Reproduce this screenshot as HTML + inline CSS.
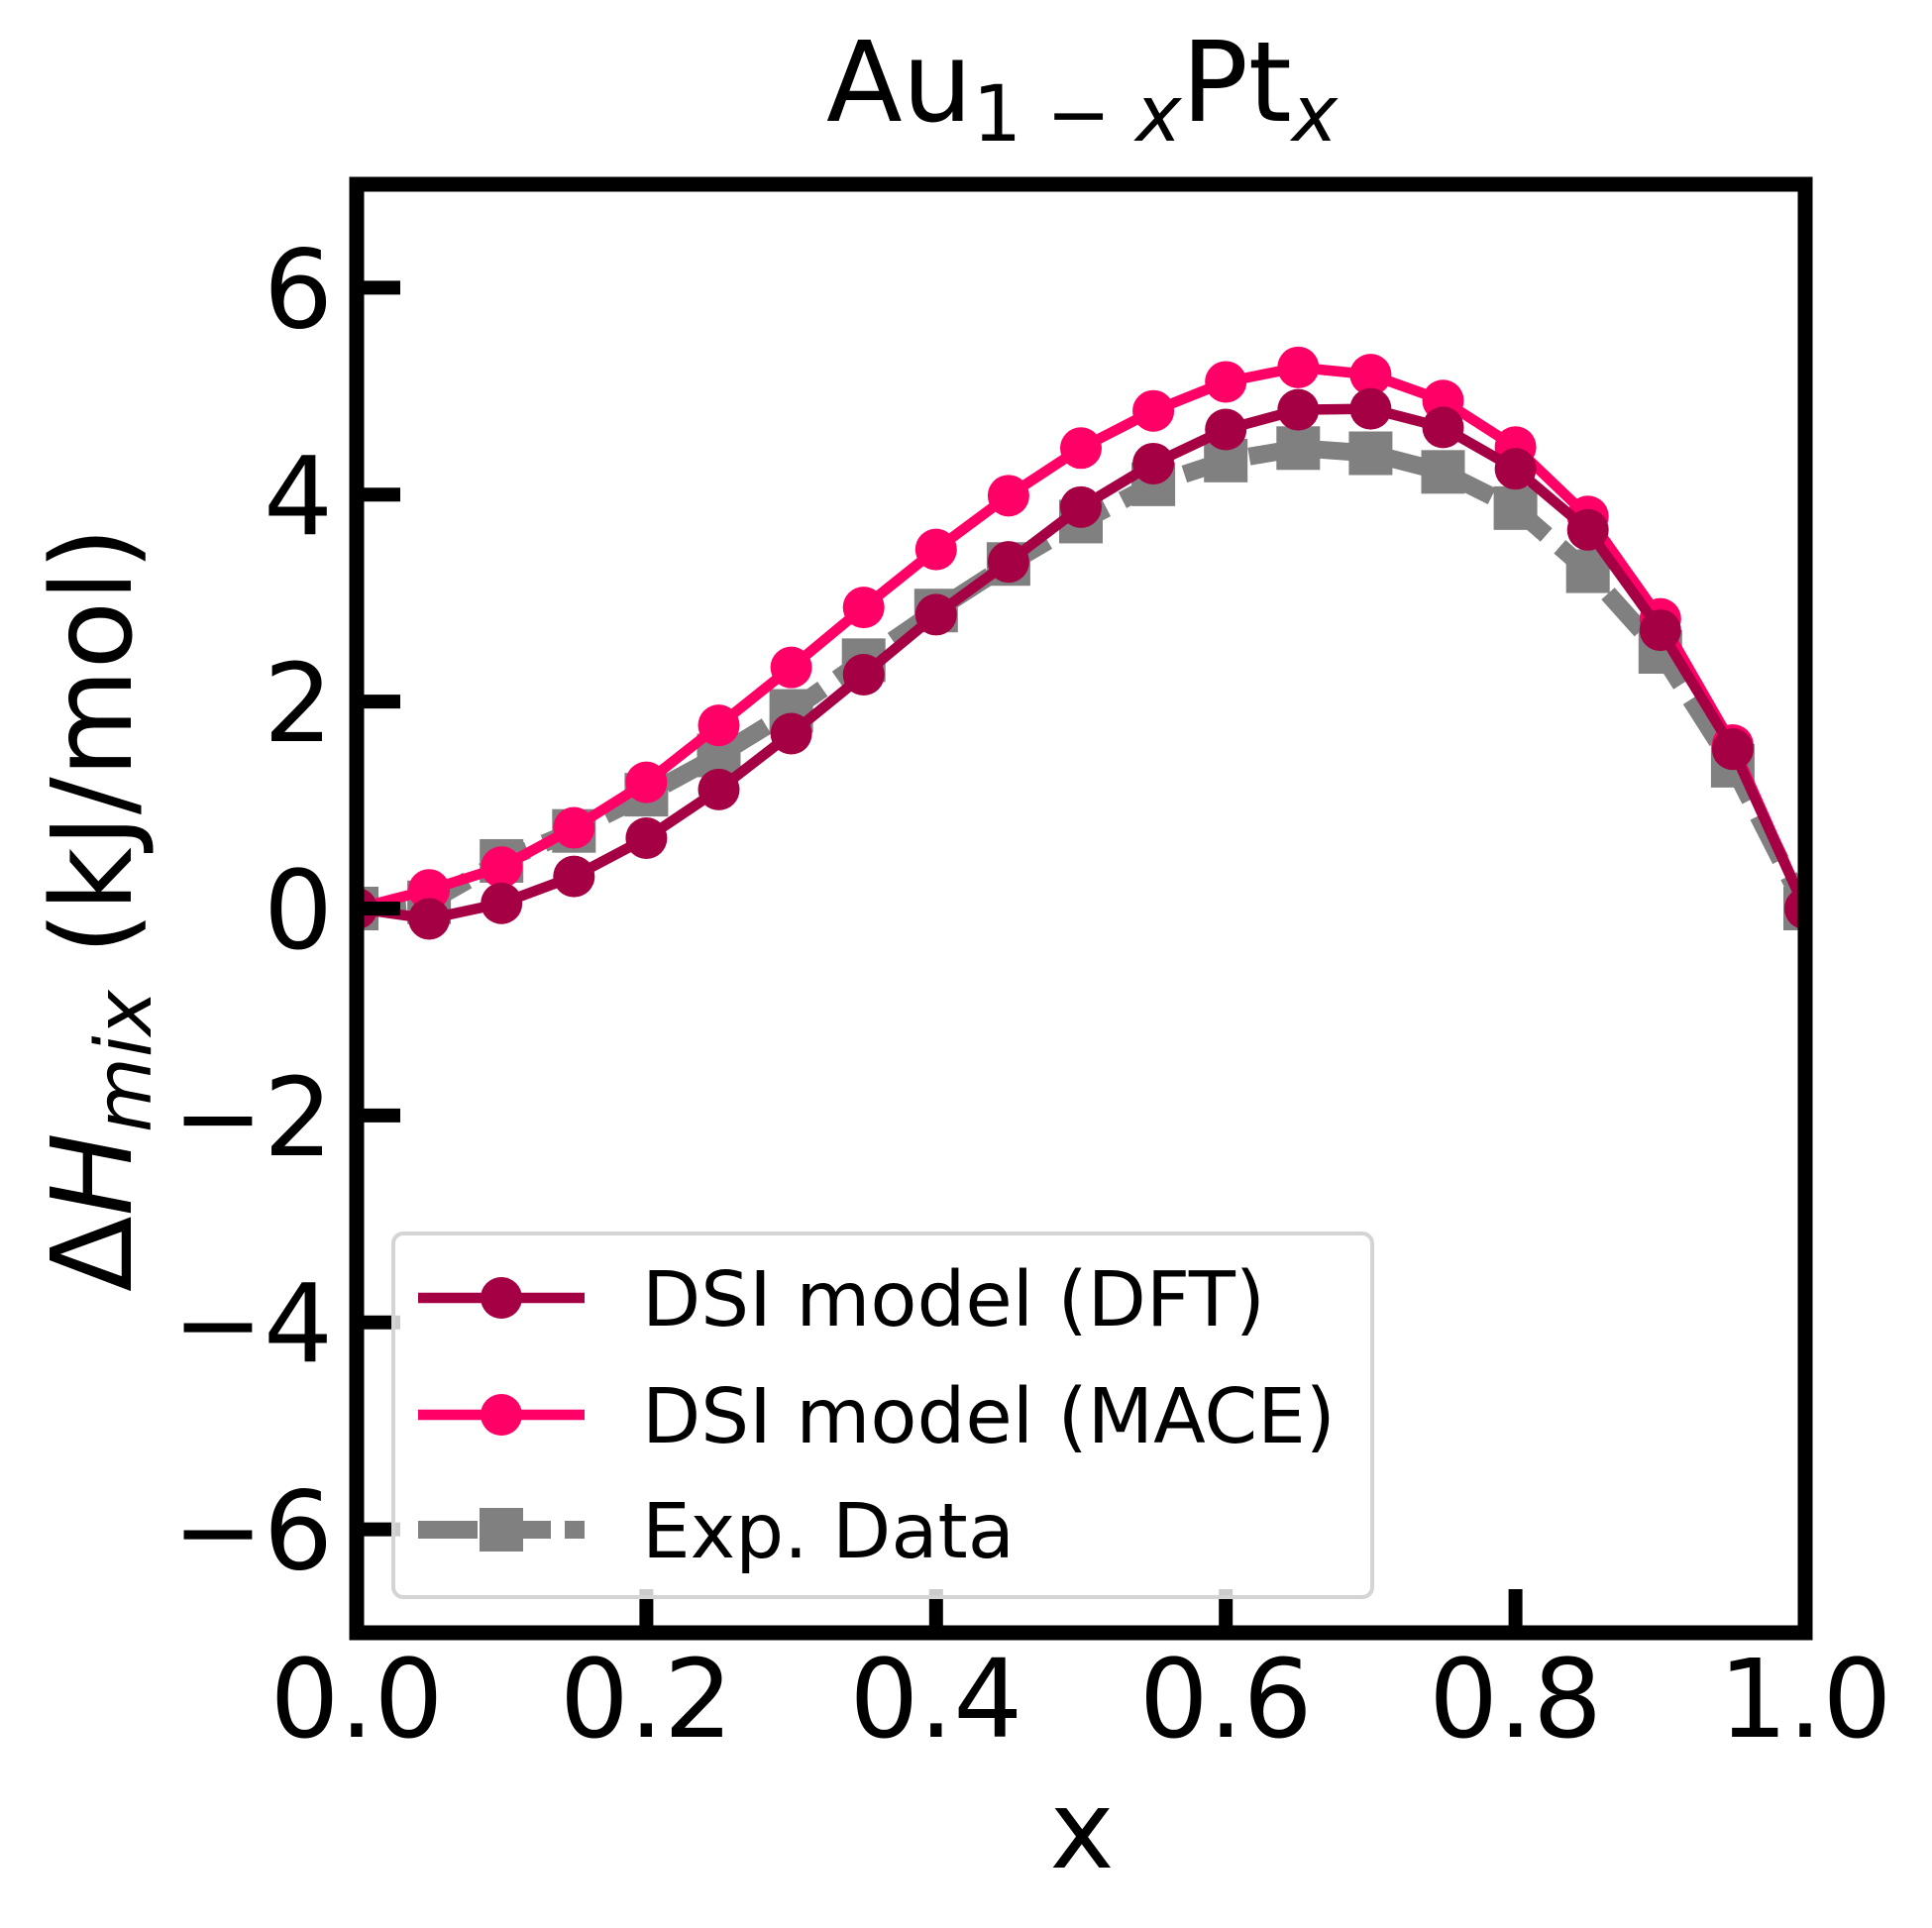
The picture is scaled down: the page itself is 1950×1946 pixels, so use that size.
<!DOCTYPE html>
<html><head><meta charset="utf-8"><style>html,body{margin:0;padding:0;background:#fff}</style></head>
<body>
<svg id="chart" width="1950" height="1941" xmlns="http://www.w3.org/2000/svg" font-family="'DejaVu Sans','Liberation Sans',sans-serif">
<rect width="1950" height="1941" fill="#fff"/>
<g id="plot"></g>
<text x="1092" y="122" font-size="112" text-anchor="middle">Au<tspan font-size="78" dy="20">1 − <tspan font-style="italic">x</tspan></tspan><tspan dy="-20">Pt</tspan><tspan font-size="78" dy="20" font-style="italic">x</tspan></text>
<text x="1092" y="1885" font-size="110" text-anchor="middle">x</text>
<text transform="translate(132,918) rotate(-90)" font-size="112" text-anchor="middle">Δ<tspan font-style="italic">H</tspan><tspan font-size="78" dy="20" font-style="italic">mix</tspan><tspan dy="-20"> (kJ/mol)</tspan></text>
</svg>
<script>
const xs=[0,0.05,0.1,0.15,0.2,0.25,0.3,0.35,0.4,0.45,0.5,0.55,0.6,0.65,0.7,0.75,0.8,0.85,0.9,0.95,1.0];
const dft=[0,-0.1,0.05,0.31,0.68,1.15,1.69,2.26,2.84,3.35,3.88,4.3,4.63,4.82,4.83,4.65,4.25,3.66,2.69,1.54,0];
const mace=[0,0.18,0.4,0.78,1.22,1.77,2.33,2.91,3.47,3.99,4.45,4.81,5.09,5.23,5.16,4.91,4.46,3.79,2.8,1.58,0];
const expd=[0,0.06,0.46,0.75,1.1,1.48,1.91,2.4,2.88,3.33,3.74,4.1,4.33,4.45,4.4,4.22,3.87,3.26,2.48,1.38,0];
const xTicks=[0,0.2,0.4,0.6,0.8,1.0];
const xTickLabels=["0.0","0.2","0.4","0.6","0.8","1.0"];
const yTicks=[-6,-4,-2,0,2,4,6];
const yTickLabels=["−6","−4","−2","0","2","4","6"];
const L=360,R=1822,T=186,B=1648,YMIN=-7,YMAX=7;
const X=v=>L+(v-0)/(1-0)*(R-L);
const Y=v=>B-(v-YMIN)/(YMAX-YMIN)*(B-T);
const NS="http://www.w3.org/2000/svg";
const g=document.getElementById('plot');
function mk(tag,attrs,parent){const e=document.createElementNS(NS,tag);for(const k in attrs)e.setAttribute(k,attrs[k]);(parent||g).appendChild(e);return e;}
const defs=mk('defs',{});const cp=mk('clipPath',{id:'clip'},defs);mk('rect',{x:L,y:T,width:R-L,height:B-T},cp);
const data=mk('g',{'clip-path':'url(#clip)'});
function series(vals,color,kind,name){
  const sg=mk('g',{},data);
  
  
  const pts=xs.map((x,i)=>X(x)+','+Y(vals[i])).join(' ');
  const pl=mk('polyline',{points:pts,fill:'none',stroke:color,'stroke-width':kind==='sq'?18:10.5,'stroke-dasharray':kind==='sq'?'50,18':'none','stroke-linejoin':'round'},sg);
  
  
  xs.forEach((x,i)=>{
    let m;
    if(kind==='sq'){m=mk('rect',{x:X(x)-22,y:Y(vals[i])-22,width:44,height:44,fill:color},sg);}
    else{m=mk('circle',{cx:X(x),cy:Y(vals[i]),r:21,fill:color},sg);}
    
    
  });
}
series(expd,'#808080','sq','exp-data-series');
series(mace,'#ff0066','c','mace-series');
series(dft,'#a50044','c','dft-series');
xTicks.forEach((t,i)=>{
  const l=mk('line',{x1:X(t),x2:X(t),y1:B,y2:B-44,stroke:'#000','stroke-width':14});
  
  
  const tx=mk('text',{x:X(t),y:1753,'font-size':110,'text-anchor':'middle'});
  tx.textContent=xTickLabels[i];
  
  
});
yTicks.forEach((t,i)=>{
  const l=mk('line',{x1:L,x2:L+44,y1:Y(t),y2:Y(t),stroke:'#000','stroke-width':14});
  
  
  const tx=mk('text',{x:336,y:Y(t)+40,'font-size':110,'text-anchor':'end'});
  tx.textContent=yTickLabels[i];
  
  
});
const fr=mk('rect',{x:L,y:T,width:R-L,height:B-T,fill:'none',stroke:'#000','stroke-width':15});


const lg=mk('g',{});


mk('rect',{x:397,y:1245,width:988,height:367,rx:10,fill:'rgba(255,255,255,0.8)',stroke:'#d4d4d4','stroke-width':4},lg);
const ents=[['DSI model (DFT)','#a50044','c',1310],['DSI model (MACE)','#ff0066','c',1428],['Exp. Data','#808080','sq',1544]];
ents.forEach(e=>{
  const eg=mk('g',{},lg);
  
  
  mk('line',{x1:422,x2:590,y1:e[3],y2:e[3],stroke:e[1],'stroke-width':e[2]==='sq'?18:10.5,'stroke-dasharray':e[2]==='sq'?'60,14':'none'},eg);
  if(e[2]==='sq')mk('rect',{x:484,y:e[3]-22,width:44,height:44,fill:e[1]},eg);
  else mk('circle',{cx:506,cy:e[3],r:21,fill:e[1]},eg);
  const t=mk('text',{x:648,y:e[3]+28,'font-size':77},eg);
  t.textContent=e[0];
});
</script>
</body></html>
